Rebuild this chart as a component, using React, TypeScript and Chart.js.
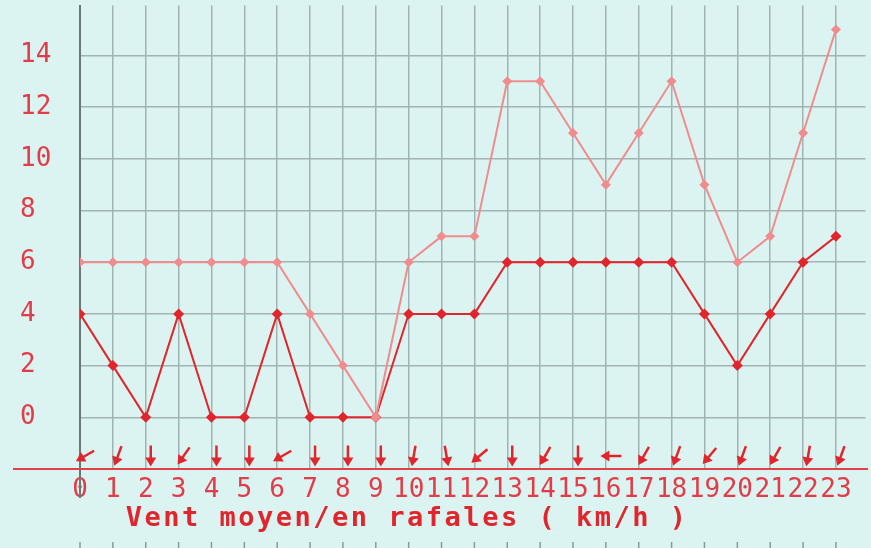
import React, { useEffect, useRef } from 'react';
import { Chart, registerables } from 'chart.js';

Chart.register(...registerables);

const hours = [0, 1, 2, 3, 4, 5, 6, 7, 8, 9, 10, 11, 12, 13, 14, 15, 16, 17, 18, 19, 20, 21, 22, 23];
const gusts = [6, 6, 6, 6, 6, 6, 6, 4, 2, 0, 6, 7, 7, 13, 13, 11, 9, 11, 13, 9, 6, 7, 11, 15];
const means = [4, 2, 0, 4, 0, 0, 4, 0, 0, 0, 4, 4, 4, 6, 6, 6, 6, 6, 6, 4, 2, 4, 6, 7];
// wind direction (meteorological "from" degrees), drawn as arrows pointing downwind
const windDirDeg = [60, 20, 0, 35, 0, 0, 60, 0, 0, 0, 10, 350, 50, 0, 30, 0, 90, 30, 20, 40, 20, 30, 10, 20];
const yTickValues = [0, 2, 4, 6, 8, 10, 12, 14];
const axisTitle = 'Vent moyen/en rafales ( km/h )';

const BG = '#dcf4f1';
const GRID = '#a2b3b3';
const AXIS_DARK = '#6c7878';
const RED = '#e0262c';
const PINK = '#f08c8e';
const LABEL = '#e23c48';
const FONT = "'DejaVu Sans Mono', monospace";

const decorPlugin = {
  id: 'decor',
  beforeDraw(chart: any) {
    const ctx = chart.ctx;
    ctx.save();
    ctx.fillStyle = BG;
    ctx.fillRect(0, 0, chart.width, chart.height);
    ctx.restore();
    ctx.letterSpacing = '2.5px';
  },
  beforeDatasetsDraw(chart: any) {
    chart.ctx.letterSpacing = '0px';
  },
  afterDraw(chart: any) {
    const ctx = chart.ctx;
    const xs = chart.scales.x;
    const area = chart.chartArea;
    ctx.save();
    // extended left axis
    ctx.strokeStyle = AXIS_DARK;
    ctx.lineWidth = 2;
    ctx.beginPath();
    ctx.moveTo(area.left, area.bottom);
    ctx.lineTo(area.left, area.bottom + 29);
    ctx.stroke();
    // red base line
    ctx.strokeStyle = '#e04046';
    ctx.lineWidth = 2;
    ctx.beginPath();
    ctx.moveTo(13, area.bottom);
    ctx.lineTo(868, area.bottom);
    ctx.stroke();
    // bottom marks
    ctx.strokeStyle = '#8a9999';
    ctx.lineWidth = 1.5;
    hours.forEach((h) => {
      const px = xs.getPixelForValue(h);
      ctx.beginPath();
      ctx.moveTo(px, chart.height - 6);
      ctx.lineTo(px, chart.height);
      ctx.stroke();
    });
    // wind arrows
    const L = 21;
    hours.forEach((h, i) => {
      const cx = xs.getPixelForValue(h) + 5;
      const cy = area.bottom - 13;
      const rad = (windDirDeg[i] * Math.PI) / 180;
      const dx = -Math.sin(rad);
      const dy = Math.cos(rad);
      const sx = cx - (dx * L) / 2;
      const sy = cy - (dy * L) / 2;
      const ex = cx + (dx * L) / 2;
      const ey = cy + (dy * L) / 2;
      ctx.strokeStyle = RED;
      ctx.fillStyle = RED;
      ctx.lineWidth = 2.5;
      ctx.beginPath();
      ctx.moveTo(sx, sy);
      ctx.lineTo(ex - dx * 4, ey - dy * 4);
      ctx.stroke();
      const px = -dy;
      const py = dx;
      ctx.beginPath();
      ctx.moveTo(ex, ey);
      ctx.lineTo(ex - dx * 9 + px * 5.5, ey - dy * 9 + py * 5.5);
      ctx.lineTo(ex - dx * 9 - px * 5.5, ey - dy * 9 - py * 5.5);
      ctx.closePath();
      ctx.fill();
    });
    ctx.restore();
  },
};

export default function App() {
  const ref = useRef<HTMLCanvasElement | null>(null);
  useEffect(() => {
    if (!ref.current) return;
    const chart = new Chart(ref.current, {
      type: 'line',
      data: {
        datasets: [
          {
            label: 'Rafales',
            data: hours.map((h, i) => ({ x: h, y: gusts[i] })),
            borderColor: PINK,
            backgroundColor: PINK,
            borderWidth: 2,
            pointStyle: 'rectRot',
            pointRadius: 5,
            pointBorderWidth: 0,
            pointBackgroundColor: PINK,
            tension: 0,
          },
          {
            label: 'Vent moyen',
            data: hours.map((h, i) => ({ x: h, y: means[i] })),
            borderColor: RED,
            backgroundColor: RED,
            borderWidth: 2,
            pointStyle: 'rectRot',
            pointRadius: 5.5,
            pointBorderWidth: 0,
            pointBackgroundColor: RED,
            tension: 0,
          },
        ],
      },
      options: {
        responsive: false,
        animation: false,
        layout: { padding: { left: 20, right: 5, top: 0, bottom: 0 } },
        plugins: { legend: { display: false }, tooltip: { enabled: false } },
        scales: {
          x: {
            type: 'linear',
            min: 0,
            max: 23.9,
            afterBuildTicks: (scale: any) => {
              scale.ticks = hours.map((v) => ({ value: v }));
            },
            afterFit: (scale: any) => {
              scale.height = 79;
              scale.paddingLeft = 0;
              scale.paddingRight = 0;
            },
            grid: { color: GRID, lineWidth: 1.5, drawTicks: false },
            border: { display: false },
            ticks: {
              z: 1,
              autoSkip: false,
              maxRotation: 0,
              minRotation: 0,
              padding: 6,
              color: LABEL,
              font: { family: FONT, size: 26, lineHeight: 1.2 },
              callback: (v: any) => String(v),
            },
            title: {
              display: true,
              text: axisTitle + '       ',
              color: RED,
              align: 'center',
              padding: { top: 0, bottom: 13 },
              font: { family: FONT, size: 27, weight: 'bold', lineHeight: 1.2 },
            },
          },
          y: {
            min: -2,
            max: 15.93,
            afterBuildTicks: (scale: any) => {
              scale.ticks = yTickValues.map((v) => ({ value: v }));
            },
            afterFit: (scale: any) => {
              scale.width = 60;
              scale.paddingTop = 0;
              scale.paddingBottom = 0;
            },
            grid: { color: GRID, lineWidth: 1.5, drawTicks: false },
            border: { display: true, color: AXIS_DARK, width: 2 },
            ticks: {
              z: 1,
              crossAlign: 'far',
              color: LABEL,
              font: { family: FONT, size: 26, lineHeight: 1.2 },
              callback: (v: any) => String(v),
            },
          },
        },
      },
      plugins: [decorPlugin],
    } as any);
    return () => chart.destroy();
  }, []);
  return (
    <div style={{ position: 'fixed', left: 0, top: 0, width: 871, height: 548, background: BG }}>
      <canvas ref={ref} width={871} height={548} style={{ display: 'block' }} />
    </div>
  );
}
